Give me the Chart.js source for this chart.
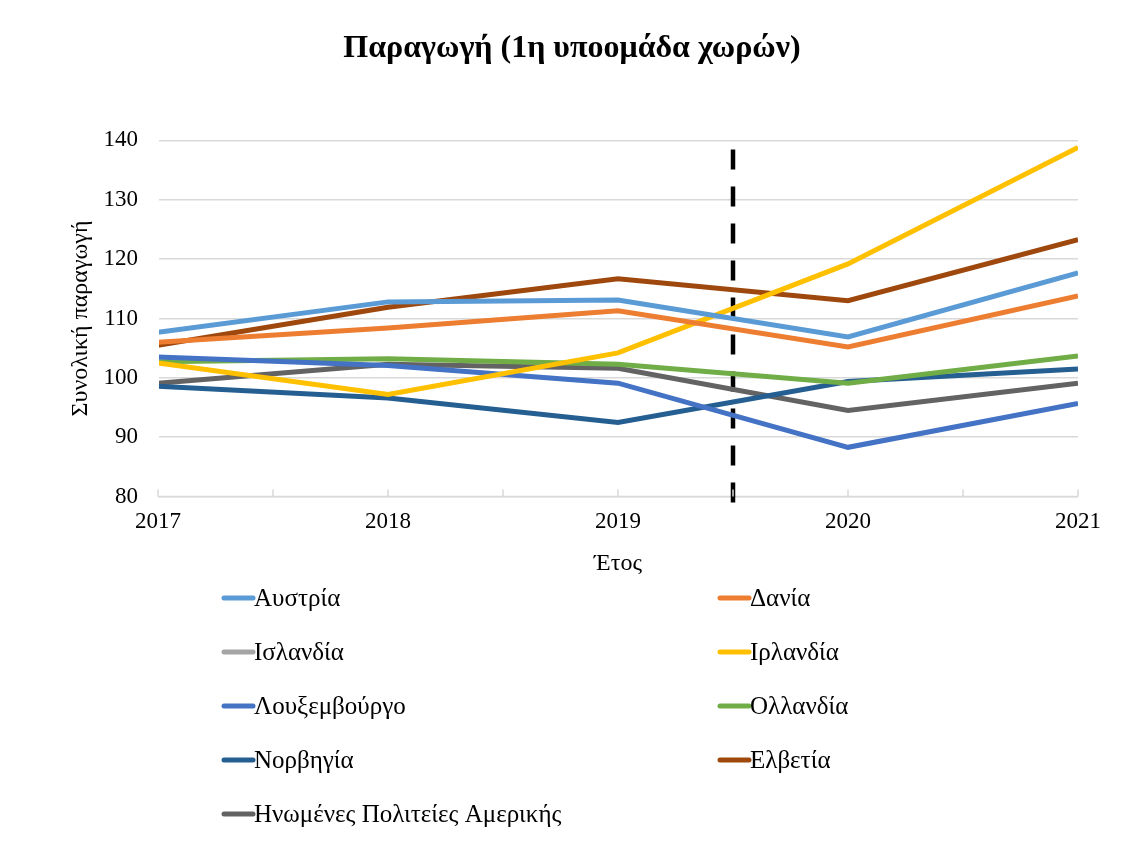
<!DOCTYPE html>
<html>
<head>
<meta charset="utf-8">
<script src="https://cdn.jsdelivr.net/npm/chart.js@4/dist/chart.umd.min.js"></script>
<style>
  html, body { margin: 0; padding: 0; background: #fff; }
  #wrap { width: 1132px; height: 854px; }
</style>
</head>
<body>
<div id="wrap"><canvas id="myChart" width="1132" height="854"></canvas></div>
<script>
const years = [2017, 2018, 2019, 2020, 2021];

const austria = [107.7, 112.8, 113.1, 106.9, 117.7];
const denmark = [106.0, 108.4, 111.3, 105.2, 113.8];
const iceland = [null, null, null, null, null];
const ireland = [102.5, 97.2, 104.2, 119.2, 138.8];
const luxembourg = [103.5, 102.1, 99.1, 88.3, 95.7];
const netherlands = [102.7, 103.2, 102.3, 99.1, 103.7];
const norway = [98.6, 96.6, 92.5, 99.4, 101.5];
const switzerland = [105.5, 111.9, 116.7, 113.0, 123.3];
const usa = [99.1, 102.3, 101.6, 94.5, 99.1];

const countryNames = ["Αυστρία", "Δανία", "Ισλανδία", "Ιρλανδία", "Λουξεμβούργο",
  "Ολλανδία", "Νορβηγία", "Ελβετία", "Ηνωμένες Πολιτείες Αμερικής"];
const colors = ["#5B9BD5", "#ED7D31", "#A5A5A5", "#FFC000", "#4472C4",
  "#70AD47", "#255E91", "#9E480E", "#636363"];
const series = [austria, denmark, iceland, ireland, luxembourg, netherlands, norway, switzerland, usa];

// vertical dashed marker between 2019 and 2020
const breakYear = 2019.5;
const breakRange = [79, 139.3];

const font = "'Liberation Serif', 'DejaVu Serif', serif";

const datasets = series.map((vals, i) => {
  return {
    label: countryNames[i],
    data: vals.map((v, j) => ({ x: years[j], y: v })).filter((p) => p.y !== null),
    borderColor: colors[i],
    backgroundColor: colors[i],
    borderWidth: 5,
    pointRadius: 0,
    tension: 0,
    fill: false
  };
});

datasets.push({
  label: "break",
  data: breakRange.map((v) => ({ x: breakYear, y: v })),
  borderColor: "#000",
  borderWidth: 4.5,
  borderDash: [20, 17],
  pointRadius: 0,
  clip: false
});

// x axis line with small tick marks pointing up (every half year)
const axisTicks = {
  id: "axisTicks",
  beforeDatasetsDraw(chart) {
    const ctx = chart.ctx;
    const x = chart.scales.x;
    const bottom = chart.chartArea.bottom;
    ctx.save();
    ctx.strokeStyle = "#D9D9D9";
    ctx.lineWidth = 1.5;
    ctx.beginPath();
    ctx.moveTo(x.left, bottom);
    ctx.lineTo(x.right, bottom);
    ctx.stroke();
    ctx.restore();
  },
  afterDatasetsDraw(chart) {
    const ctx = chart.ctx;
    const x = chart.scales.x;
    const area = chart.chartArea;
    ctx.save();
    // keep the left edge of the plot free of a vertical rule
    ctx.fillStyle = "#fff";
    ctx.fillRect(area.left - 2, area.top - 3, 3, area.bottom - area.top - 4);
    ctx.strokeStyle = "#D9D9D9";
    ctx.lineWidth = 1.5;
    for (let v = x.min; v <= x.max + 0.001; v += 0.5) {
      const px = x.getPixelForValue(v);
      ctx.beginPath();
      ctx.moveTo(px, area.bottom);
      ctx.lineTo(px, area.bottom - 7);
      ctx.stroke();
    }
    ctx.restore();
  }
};

// two-column legend below the plot
const legendPlugin = {
  id: "gridLegend",
  afterDraw(chart) {
    const ctx = chart.ctx;
    const items = chart.data.datasets.filter((d) => d.label !== "break");
    ctx.save();
    ctx.font = "25px " + font;
    ctx.textBaseline = "middle";
    items.forEach((d, i) => {
      const col = i % 2;
      const row = Math.floor(i / 2);
      const x = col === 0 ? 224 : 720;
      const y = 598 + row * 54;
      ctx.strokeStyle = d.borderColor;
      ctx.lineWidth = 5;
      ctx.lineCap = "round";
      ctx.beginPath();
      ctx.moveTo(x, y);
      ctx.lineTo(x + 29, y);
      ctx.stroke();
      ctx.fillStyle = "#000";
      ctx.fillText(d.label, x + 30, y + 1);
    });
    ctx.restore();
  }
};

const myCanvas = document.getElementById("myChart");

const productionChart = new Chart(myCanvas, {
  type: "line",
  data: { datasets: datasets },
  plugins: [axisTicks, legendPlugin],
  options: {
    responsive: false,
    animation: false,
    layout: { padding: { left: 66, right: 54, top: 10, bottom: 272 } },
    plugins: {
      legend: { display: false },
      tooltip: { enabled: false },
      title: {
        display: true,
        text: "Παραγωγή (1η υποομάδα χωρών)",
        color: "#000",
        font: { family: font, size: 32, weight: "bold" },
        padding: { top: 20, bottom: 72 }
      }
    },
    scales: {
      x: {
        type: "linear",
        min: 2017,
        max: 2021,
        afterFit: (scale) => {
          scale.height = scale.height + 3;
        },
        ticks: {
          stepSize: 1,
          color: "#000",
          font: { family: font, size: 23 },
          maxRotation: 0,
          padding: 4,
          callback: (v) => String(v)
        },
        grid: { display: false },
        border: { display: false },
        title: {
          display: true,
          text: "Έτος",
          color: "#000",
          font: { family: font, size: 24 },
          padding: { top: 6 }
        }
      },
      y: {
        min: 80,
        max: 140,
        afterFit: (scale) => {
          scale.width = 92;
        },
        ticks: {
          stepSize: 10,
          color: "#000",
          font: { family: font, size: 23 },
          padding: 20
        },
        grid: { color: "#D9D9D9", lineWidth: 1.5, drawTicks: false },
        border: { display: false, width: 0, color: "rgba(0,0,0,0)" },
        title: {
          display: true,
          text: "Συνολική παραγωγή",
          color: "#000",
          font: { family: font, size: 24 },
          padding: { top: 0, bottom: 0 }
        }
      }
    }
  }
});
</script>
</body>
</html>
